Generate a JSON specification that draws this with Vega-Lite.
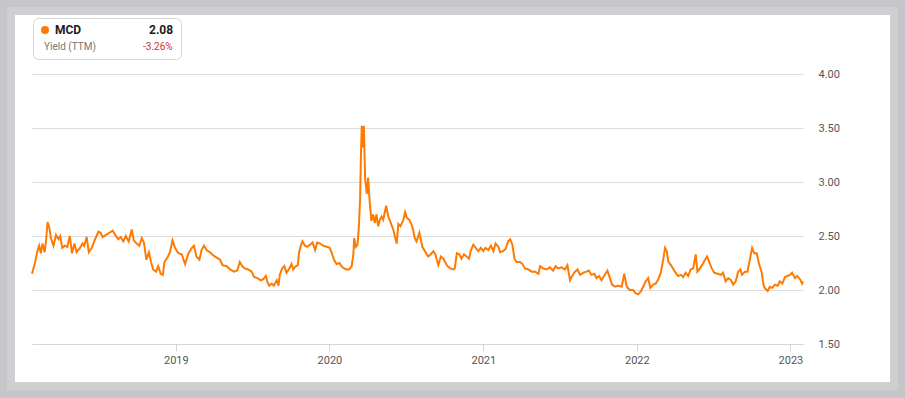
{
  "$schema": "https://vega.github.io/schema/vega-lite/v6.json",
  "width": 883,
  "height": 375,
  "autosize": {"type": "none"},
  "padding": {"left": 11, "top": 11, "right": 11, "bottom": 12},
  "background": "#c5c6c9",
  "config": {
    "view": {"fill": "#ffffff", "stroke": "#cfcfcf", "strokeWidth": 8},
    "font": "Roboto"
  },
  "data": {"values": [
    {"date":"2018-01-24","yield":2.15,"ticker":"MCD"},
    {"date":"2018-01-31","yield":2.25,"ticker":"MCD"},
    {"date":"2018-02-06","yield":2.36,"ticker":"MCD"},
    {"date":"2018-02-10","yield":2.41,"ticker":"MCD"},
    {"date":"2018-02-14","yield":2.34,"ticker":"MCD"},
    {"date":"2018-02-18","yield":2.43,"ticker":"MCD"},
    {"date":"2018-02-23","yield":2.35,"ticker":"MCD"},
    {"date":"2018-02-26","yield":2.44,"ticker":"MCD"},
    {"date":"2018-03-02","yield":2.63,"ticker":"MCD"},
    {"date":"2018-03-06","yield":2.58,"ticker":"MCD"},
    {"date":"2018-03-10","yield":2.48,"ticker":"MCD"},
    {"date":"2018-03-16","yield":2.41,"ticker":"MCD"},
    {"date":"2018-03-22","yield":2.51,"ticker":"MCD"},
    {"date":"2018-03-28","yield":2.47,"ticker":"MCD"},
    {"date":"2018-04-01","yield":2.50,"ticker":"MCD"},
    {"date":"2018-04-06","yield":2.39,"ticker":"MCD"},
    {"date":"2018-04-12","yield":2.41,"ticker":"MCD"},
    {"date":"2018-04-18","yield":2.40,"ticker":"MCD"},
    {"date":"2018-04-24","yield":2.50,"ticker":"MCD"},
    {"date":"2018-04-29","yield":2.34,"ticker":"MCD"},
    {"date":"2018-05-05","yield":2.43,"ticker":"MCD"},
    {"date":"2018-05-10","yield":2.35,"ticker":"MCD"},
    {"date":"2018-05-18","yield":2.39,"ticker":"MCD"},
    {"date":"2018-05-24","yield":2.43,"ticker":"MCD"},
    {"date":"2018-05-28","yield":2.41,"ticker":"MCD"},
    {"date":"2018-06-03","yield":2.49,"ticker":"MCD"},
    {"date":"2018-06-08","yield":2.35,"ticker":"MCD"},
    {"date":"2018-06-15","yield":2.39,"ticker":"MCD"},
    {"date":"2018-06-23","yield":2.47,"ticker":"MCD"},
    {"date":"2018-07-01","yield":2.54,"ticker":"MCD"},
    {"date":"2018-07-06","yield":2.53,"ticker":"MCD"},
    {"date":"2018-07-11","yield":2.49,"ticker":"MCD"},
    {"date":"2018-07-19","yield":2.51,"ticker":"MCD"},
    {"date":"2018-07-27","yield":2.53,"ticker":"MCD"},
    {"date":"2018-08-04","yield":2.55,"ticker":"MCD"},
    {"date":"2018-08-10","yield":2.51,"ticker":"MCD"},
    {"date":"2018-08-17","yield":2.47,"ticker":"MCD"},
    {"date":"2018-08-23","yield":2.49,"ticker":"MCD"},
    {"date":"2018-08-29","yield":2.45,"ticker":"MCD"},
    {"date":"2018-09-04","yield":2.50,"ticker":"MCD"},
    {"date":"2018-09-11","yield":2.45,"ticker":"MCD"},
    {"date":"2018-09-18","yield":2.56,"ticker":"MCD"},
    {"date":"2018-09-23","yield":2.46,"ticker":"MCD"},
    {"date":"2018-09-30","yield":2.43,"ticker":"MCD"},
    {"date":"2018-10-06","yield":2.41,"ticker":"MCD"},
    {"date":"2018-10-12","yield":2.48,"ticker":"MCD"},
    {"date":"2018-10-17","yield":2.44,"ticker":"MCD"},
    {"date":"2018-10-23","yield":2.28,"ticker":"MCD"},
    {"date":"2018-10-29","yield":2.35,"ticker":"MCD"},
    {"date":"2018-11-03","yield":2.26,"ticker":"MCD"},
    {"date":"2018-11-08","yield":2.19,"ticker":"MCD"},
    {"date":"2018-11-15","yield":2.17,"ticker":"MCD"},
    {"date":"2018-11-20","yield":2.22,"ticker":"MCD"},
    {"date":"2018-11-26","yield":2.15,"ticker":"MCD"},
    {"date":"2018-12-01","yield":2.14,"ticker":"MCD"},
    {"date":"2018-12-05","yield":2.26,"ticker":"MCD"},
    {"date":"2018-12-12","yield":2.30,"ticker":"MCD"},
    {"date":"2018-12-18","yield":2.35,"ticker":"MCD"},
    {"date":"2018-12-24","yield":2.46,"ticker":"MCD"},
    {"date":"2018-12-30","yield":2.39,"ticker":"MCD"},
    {"date":"2019-01-07","yield":2.34,"ticker":"MCD"},
    {"date":"2019-01-15","yield":2.33,"ticker":"MCD"},
    {"date":"2019-01-23","yield":2.24,"ticker":"MCD"},
    {"date":"2019-01-31","yield":2.34,"ticker":"MCD"},
    {"date":"2019-02-08","yield":2.39,"ticker":"MCD"},
    {"date":"2019-02-13","yield":2.41,"ticker":"MCD"},
    {"date":"2019-02-19","yield":2.31,"ticker":"MCD"},
    {"date":"2019-02-26","yield":2.28,"ticker":"MCD"},
    {"date":"2019-03-03","yield":2.37,"ticker":"MCD"},
    {"date":"2019-03-09","yield":2.41,"ticker":"MCD"},
    {"date":"2019-03-15","yield":2.37,"ticker":"MCD"},
    {"date":"2019-03-23","yield":2.35,"ticker":"MCD"},
    {"date":"2019-03-31","yield":2.32,"ticker":"MCD"},
    {"date":"2019-04-08","yield":2.30,"ticker":"MCD"},
    {"date":"2019-04-16","yield":2.28,"ticker":"MCD"},
    {"date":"2019-04-22","yield":2.23,"ticker":"MCD"},
    {"date":"2019-05-02","yield":2.22,"ticker":"MCD"},
    {"date":"2019-05-10","yield":2.19,"ticker":"MCD"},
    {"date":"2019-05-19","yield":2.17,"ticker":"MCD"},
    {"date":"2019-05-27","yield":2.18,"ticker":"MCD"},
    {"date":"2019-06-02","yield":2.26,"ticker":"MCD"},
    {"date":"2019-06-08","yield":2.22,"ticker":"MCD"},
    {"date":"2019-06-14","yield":2.20,"ticker":"MCD"},
    {"date":"2019-06-22","yield":2.19,"ticker":"MCD"},
    {"date":"2019-06-30","yield":2.17,"ticker":"MCD"},
    {"date":"2019-07-06","yield":2.12,"ticker":"MCD"},
    {"date":"2019-07-14","yield":2.11,"ticker":"MCD"},
    {"date":"2019-07-22","yield":2.09,"ticker":"MCD"},
    {"date":"2019-07-28","yield":2.10,"ticker":"MCD"},
    {"date":"2019-08-03","yield":2.13,"ticker":"MCD"},
    {"date":"2019-08-07","yield":2.07,"ticker":"MCD"},
    {"date":"2019-08-11","yield":2.04,"ticker":"MCD"},
    {"date":"2019-08-17","yield":2.06,"ticker":"MCD"},
    {"date":"2019-08-22","yield":2.04,"ticker":"MCD"},
    {"date":"2019-08-29","yield":2.09,"ticker":"MCD"},
    {"date":"2019-09-02","yield":2.04,"ticker":"MCD"},
    {"date":"2019-09-05","yield":2.14,"ticker":"MCD"},
    {"date":"2019-09-11","yield":2.20,"ticker":"MCD"},
    {"date":"2019-09-16","yield":2.22,"ticker":"MCD"},
    {"date":"2019-09-21","yield":2.16,"ticker":"MCD"},
    {"date":"2019-09-28","yield":2.20,"ticker":"MCD"},
    {"date":"2019-10-03","yield":2.24,"ticker":"MCD"},
    {"date":"2019-10-07","yield":2.19,"ticker":"MCD"},
    {"date":"2019-10-13","yield":2.22,"ticker":"MCD"},
    {"date":"2019-10-18","yield":2.23,"ticker":"MCD"},
    {"date":"2019-10-21","yield":2.35,"ticker":"MCD"},
    {"date":"2019-10-25","yield":2.41,"ticker":"MCD"},
    {"date":"2019-10-29","yield":2.45,"ticker":"MCD"},
    {"date":"2019-11-04","yield":2.41,"ticker":"MCD"},
    {"date":"2019-11-09","yield":2.40,"ticker":"MCD"},
    {"date":"2019-11-16","yield":2.42,"ticker":"MCD"},
    {"date":"2019-11-22","yield":2.44,"ticker":"MCD"},
    {"date":"2019-11-28","yield":2.37,"ticker":"MCD"},
    {"date":"2019-12-03","yield":2.44,"ticker":"MCD"},
    {"date":"2019-12-10","yield":2.43,"ticker":"MCD"},
    {"date":"2019-12-17","yield":2.41,"ticker":"MCD"},
    {"date":"2019-12-25","yield":2.40,"ticker":"MCD"},
    {"date":"2020-01-02","yield":2.39,"ticker":"MCD"},
    {"date":"2020-01-07","yield":2.34,"ticker":"MCD"},
    {"date":"2020-01-12","yield":2.28,"ticker":"MCD"},
    {"date":"2020-01-18","yield":2.24,"ticker":"MCD"},
    {"date":"2020-01-25","yield":2.25,"ticker":"MCD"},
    {"date":"2020-01-30","yield":2.22,"ticker":"MCD"},
    {"date":"2020-02-05","yield":2.20,"ticker":"MCD"},
    {"date":"2020-02-11","yield":2.19,"ticker":"MCD"},
    {"date":"2020-02-17","yield":2.19,"ticker":"MCD"},
    {"date":"2020-02-23","yield":2.22,"ticker":"MCD"},
    {"date":"2020-02-27","yield":2.33,"ticker":"MCD"},
    {"date":"2020-02-29","yield":2.48,"ticker":"MCD"},
    {"date":"2020-03-04","yield":2.40,"ticker":"MCD"},
    {"date":"2020-03-08","yield":2.42,"ticker":"MCD"},
    {"date":"2020-03-11","yield":2.58,"ticker":"MCD"},
    {"date":"2020-03-14","yield":2.84,"ticker":"MCD"},
    {"date":"2020-03-16","yield":3.24,"ticker":"MCD"},
    {"date":"2020-03-18","yield":3.52,"ticker":"MCD"},
    {"date":"2020-03-21","yield":3.32,"ticker":"MCD"},
    {"date":"2020-03-23","yield":3.52,"ticker":"MCD"},
    {"date":"2020-03-26","yield":3.03,"ticker":"MCD"},
    {"date":"2020-03-30","yield":2.89,"ticker":"MCD"},
    {"date":"2020-04-02","yield":3.04,"ticker":"MCD"},
    {"date":"2020-04-06","yield":2.81,"ticker":"MCD"},
    {"date":"2020-04-10","yield":2.64,"ticker":"MCD"},
    {"date":"2020-04-14","yield":2.70,"ticker":"MCD"},
    {"date":"2020-04-18","yield":2.62,"ticker":"MCD"},
    {"date":"2020-04-22","yield":2.70,"ticker":"MCD"},
    {"date":"2020-04-26","yield":2.59,"ticker":"MCD"},
    {"date":"2020-04-30","yield":2.65,"ticker":"MCD"},
    {"date":"2020-05-04","yield":2.68,"ticker":"MCD"},
    {"date":"2020-05-08","yield":2.65,"ticker":"MCD"},
    {"date":"2020-05-15","yield":2.78,"ticker":"MCD"},
    {"date":"2020-05-20","yield":2.68,"ticker":"MCD"},
    {"date":"2020-05-26","yield":2.62,"ticker":"MCD"},
    {"date":"2020-06-01","yield":2.56,"ticker":"MCD"},
    {"date":"2020-06-05","yield":2.49,"ticker":"MCD"},
    {"date":"2020-06-09","yield":2.43,"ticker":"MCD"},
    {"date":"2020-06-13","yield":2.61,"ticker":"MCD"},
    {"date":"2020-06-18","yield":2.59,"ticker":"MCD"},
    {"date":"2020-06-25","yield":2.65,"ticker":"MCD"},
    {"date":"2020-06-29","yield":2.72,"ticker":"MCD"},
    {"date":"2020-07-03","yield":2.67,"ticker":"MCD"},
    {"date":"2020-07-09","yield":2.65,"ticker":"MCD"},
    {"date":"2020-07-14","yield":2.61,"ticker":"MCD"},
    {"date":"2020-07-18","yield":2.56,"ticker":"MCD"},
    {"date":"2020-07-22","yield":2.48,"ticker":"MCD"},
    {"date":"2020-07-26","yield":2.45,"ticker":"MCD"},
    {"date":"2020-08-02","yield":2.53,"ticker":"MCD"},
    {"date":"2020-08-09","yield":2.40,"ticker":"MCD"},
    {"date":"2020-08-15","yield":2.36,"ticker":"MCD"},
    {"date":"2020-08-23","yield":2.31,"ticker":"MCD"},
    {"date":"2020-08-29","yield":2.33,"ticker":"MCD"},
    {"date":"2020-09-04","yield":2.36,"ticker":"MCD"},
    {"date":"2020-09-09","yield":2.33,"ticker":"MCD"},
    {"date":"2020-09-16","yield":2.23,"ticker":"MCD"},
    {"date":"2020-09-22","yield":2.31,"ticker":"MCD"},
    {"date":"2020-09-28","yield":2.29,"ticker":"MCD"},
    {"date":"2020-10-06","yield":2.23,"ticker":"MCD"},
    {"date":"2020-10-14","yield":2.20,"ticker":"MCD"},
    {"date":"2020-10-22","yield":2.19,"ticker":"MCD"},
    {"date":"2020-10-25","yield":2.20,"ticker":"MCD"},
    {"date":"2020-10-30","yield":2.34,"ticker":"MCD"},
    {"date":"2020-11-05","yield":2.33,"ticker":"MCD"},
    {"date":"2020-11-10","yield":2.29,"ticker":"MCD"},
    {"date":"2020-11-16","yield":2.33,"ticker":"MCD"},
    {"date":"2020-11-22","yield":2.31,"ticker":"MCD"},
    {"date":"2020-11-28","yield":2.29,"ticker":"MCD"},
    {"date":"2020-12-02","yield":2.36,"ticker":"MCD"},
    {"date":"2020-12-08","yield":2.42,"ticker":"MCD"},
    {"date":"2020-12-14","yield":2.39,"ticker":"MCD"},
    {"date":"2020-12-20","yield":2.36,"ticker":"MCD"},
    {"date":"2020-12-26","yield":2.39,"ticker":"MCD"},
    {"date":"2021-01-01","yield":2.36,"ticker":"MCD"},
    {"date":"2021-01-06","yield":2.39,"ticker":"MCD"},
    {"date":"2021-01-13","yield":2.37,"ticker":"MCD"},
    {"date":"2021-01-19","yield":2.41,"ticker":"MCD"},
    {"date":"2021-01-25","yield":2.36,"ticker":"MCD"},
    {"date":"2021-01-30","yield":2.43,"ticker":"MCD"},
    {"date":"2021-02-06","yield":2.40,"ticker":"MCD"},
    {"date":"2021-02-10","yield":2.35,"ticker":"MCD"},
    {"date":"2021-02-17","yield":2.36,"ticker":"MCD"},
    {"date":"2021-02-23","yield":2.38,"ticker":"MCD"},
    {"date":"2021-03-01","yield":2.45,"ticker":"MCD"},
    {"date":"2021-03-06","yield":2.47,"ticker":"MCD"},
    {"date":"2021-03-11","yield":2.42,"ticker":"MCD"},
    {"date":"2021-03-16","yield":2.29,"ticker":"MCD"},
    {"date":"2021-03-21","yield":2.26,"ticker":"MCD"},
    {"date":"2021-03-29","yield":2.26,"ticker":"MCD"},
    {"date":"2021-04-04","yield":2.24,"ticker":"MCD"},
    {"date":"2021-04-10","yield":2.20,"ticker":"MCD"},
    {"date":"2021-04-18","yield":2.19,"ticker":"MCD"},
    {"date":"2021-04-26","yield":2.17,"ticker":"MCD"},
    {"date":"2021-05-04","yield":2.17,"ticker":"MCD"},
    {"date":"2021-05-12","yield":2.15,"ticker":"MCD"},
    {"date":"2021-05-16","yield":2.22,"ticker":"MCD"},
    {"date":"2021-05-23","yield":2.20,"ticker":"MCD"},
    {"date":"2021-05-31","yield":2.19,"ticker":"MCD"},
    {"date":"2021-06-08","yield":2.21,"ticker":"MCD"},
    {"date":"2021-06-16","yield":2.18,"ticker":"MCD"},
    {"date":"2021-06-22","yield":2.22,"ticker":"MCD"},
    {"date":"2021-06-28","yield":2.20,"ticker":"MCD"},
    {"date":"2021-07-06","yield":2.21,"ticker":"MCD"},
    {"date":"2021-07-14","yield":2.19,"ticker":"MCD"},
    {"date":"2021-07-20","yield":2.23,"ticker":"MCD"},
    {"date":"2021-07-26","yield":2.09,"ticker":"MCD"},
    {"date":"2021-07-31","yield":2.13,"ticker":"MCD"},
    {"date":"2021-08-07","yield":2.17,"ticker":"MCD"},
    {"date":"2021-08-13","yield":2.19,"ticker":"MCD"},
    {"date":"2021-08-19","yield":2.14,"ticker":"MCD"},
    {"date":"2021-08-27","yield":2.16,"ticker":"MCD"},
    {"date":"2021-09-03","yield":2.17,"ticker":"MCD"},
    {"date":"2021-09-09","yield":2.18,"ticker":"MCD"},
    {"date":"2021-09-15","yield":2.14,"ticker":"MCD"},
    {"date":"2021-09-22","yield":2.15,"ticker":"MCD"},
    {"date":"2021-09-27","yield":2.11,"ticker":"MCD"},
    {"date":"2021-10-03","yield":2.13,"ticker":"MCD"},
    {"date":"2021-10-09","yield":2.09,"ticker":"MCD"},
    {"date":"2021-10-15","yield":2.13,"ticker":"MCD"},
    {"date":"2021-10-23","yield":2.18,"ticker":"MCD"},
    {"date":"2021-10-29","yield":2.11,"ticker":"MCD"},
    {"date":"2021-11-03","yield":2.05,"ticker":"MCD"},
    {"date":"2021-11-10","yield":2.03,"ticker":"MCD"},
    {"date":"2021-11-18","yield":2.04,"ticker":"MCD"},
    {"date":"2021-11-26","yield":2.03,"ticker":"MCD"},
    {"date":"2021-12-02","yield":2.15,"ticker":"MCD"},
    {"date":"2021-12-08","yield":2.03,"ticker":"MCD"},
    {"date":"2021-12-15","yield":2.00,"ticker":"MCD"},
    {"date":"2021-12-23","yield":2.00,"ticker":"MCD"},
    {"date":"2021-12-29","yield":1.97,"ticker":"MCD"},
    {"date":"2022-01-04","yield":1.96,"ticker":"MCD"},
    {"date":"2022-01-11","yield":1.99,"ticker":"MCD"},
    {"date":"2022-01-16","yield":2.03,"ticker":"MCD"},
    {"date":"2022-01-22","yield":2.08,"ticker":"MCD"},
    {"date":"2022-01-28","yield":2.11,"ticker":"MCD"},
    {"date":"2022-02-02","yield":2.02,"ticker":"MCD"},
    {"date":"2022-02-09","yield":2.05,"ticker":"MCD"},
    {"date":"2022-02-15","yield":2.06,"ticker":"MCD"},
    {"date":"2022-02-21","yield":2.10,"ticker":"MCD"},
    {"date":"2022-02-27","yield":2.16,"ticker":"MCD"},
    {"date":"2022-03-05","yield":2.29,"ticker":"MCD"},
    {"date":"2022-03-09","yield":2.39,"ticker":"MCD"},
    {"date":"2022-03-13","yield":2.36,"ticker":"MCD"},
    {"date":"2022-03-17","yield":2.26,"ticker":"MCD"},
    {"date":"2022-03-23","yield":2.23,"ticker":"MCD"},
    {"date":"2022-03-28","yield":2.20,"ticker":"MCD"},
    {"date":"2022-04-03","yield":2.16,"ticker":"MCD"},
    {"date":"2022-04-09","yield":2.13,"ticker":"MCD"},
    {"date":"2022-04-16","yield":2.14,"ticker":"MCD"},
    {"date":"2022-04-21","yield":2.12,"ticker":"MCD"},
    {"date":"2022-04-27","yield":2.16,"ticker":"MCD"},
    {"date":"2022-05-03","yield":2.13,"ticker":"MCD"},
    {"date":"2022-05-09","yield":2.19,"ticker":"MCD"},
    {"date":"2022-05-15","yield":2.20,"ticker":"MCD"},
    {"date":"2022-05-21","yield":2.33,"ticker":"MCD"},
    {"date":"2022-05-25","yield":2.17,"ticker":"MCD"},
    {"date":"2022-05-31","yield":2.20,"ticker":"MCD"},
    {"date":"2022-06-05","yield":2.23,"ticker":"MCD"},
    {"date":"2022-06-12","yield":2.28,"ticker":"MCD"},
    {"date":"2022-06-17","yield":2.31,"ticker":"MCD"},
    {"date":"2022-06-23","yield":2.25,"ticker":"MCD"},
    {"date":"2022-06-28","yield":2.20,"ticker":"MCD"},
    {"date":"2022-07-04","yield":2.16,"ticker":"MCD"},
    {"date":"2022-07-12","yield":2.15,"ticker":"MCD"},
    {"date":"2022-07-20","yield":2.14,"ticker":"MCD"},
    {"date":"2022-07-25","yield":2.16,"ticker":"MCD"},
    {"date":"2022-07-31","yield":2.08,"ticker":"MCD"},
    {"date":"2022-08-06","yield":2.11,"ticker":"MCD"},
    {"date":"2022-08-13","yield":2.09,"ticker":"MCD"},
    {"date":"2022-08-18","yield":2.05,"ticker":"MCD"},
    {"date":"2022-08-24","yield":2.08,"ticker":"MCD"},
    {"date":"2022-08-30","yield":2.17,"ticker":"MCD"},
    {"date":"2022-09-04","yield":2.19,"ticker":"MCD"},
    {"date":"2022-09-08","yield":2.14,"ticker":"MCD"},
    {"date":"2022-09-15","yield":2.17,"ticker":"MCD"},
    {"date":"2022-09-21","yield":2.17,"ticker":"MCD"},
    {"date":"2022-09-27","yield":2.29,"ticker":"MCD"},
    {"date":"2022-10-02","yield":2.39,"ticker":"MCD"},
    {"date":"2022-10-07","yield":2.34,"ticker":"MCD"},
    {"date":"2022-10-13","yield":2.34,"ticker":"MCD"},
    {"date":"2022-10-18","yield":2.25,"ticker":"MCD"},
    {"date":"2022-10-25","yield":2.16,"ticker":"MCD"},
    {"date":"2022-10-29","yield":2.05,"ticker":"MCD"},
    {"date":"2022-11-01","yield":2.02,"ticker":"MCD"},
    {"date":"2022-11-08","yield":1.99,"ticker":"MCD"},
    {"date":"2022-11-13","yield":2.03,"ticker":"MCD"},
    {"date":"2022-11-19","yield":2.02,"ticker":"MCD"},
    {"date":"2022-11-25","yield":2.05,"ticker":"MCD"},
    {"date":"2022-12-02","yield":2.04,"ticker":"MCD"},
    {"date":"2022-12-07","yield":2.08,"ticker":"MCD"},
    {"date":"2022-12-13","yield":2.06,"ticker":"MCD"},
    {"date":"2022-12-19","yield":2.12,"ticker":"MCD"},
    {"date":"2022-12-25","yield":2.13,"ticker":"MCD"},
    {"date":"2022-12-31","yield":2.14,"ticker":"MCD"},
    {"date":"2023-01-05","yield":2.16,"ticker":"MCD"},
    {"date":"2023-01-12","yield":2.11,"ticker":"MCD"},
    {"date":"2023-01-17","yield":2.13,"ticker":"MCD"},
    {"date":"2023-01-24","yield":2.10,"ticker":"MCD"},
    {"date":"2023-01-29","yield":2.06,"ticker":"MCD"},
    {"date":"2023-01-31","yield":2.08,"ticker":"MCD"}
  ]},
  "mark": {"type": "line", "strokeWidth": 2, "interpolate": "linear"},
  "encoding": {
    "x": {
      "field": "date",
      "type": "temporal",
      "scale": {
        "type": "utc",
        "domain": [{"year": 2018, "month": 1, "date": 24, "utc": true}, {"year": 2023, "month": 1, "date": 31, "utc": true}],
        "range": [21, 792],
        "nice": false
      },
      "axis": {
        "title": null,
        "orient": "bottom",
        "offset": -42,
        "grid": false,
        "values": [
          {"year": 2019, "month": 1, "date": 1, "utc": true},
          {"year": 2020, "month": 1, "date": 1, "utc": true},
          {"year": 2021, "month": 1, "date": 1, "utc": true},
          {"year": 2022, "month": 1, "date": 1, "utc": true},
          {"year": 2023, "month": 1, "date": 1, "utc": true}
        ],
        "format": "%Y",
        "labelFlush": false,
        "labelOverlap": false,
        "domainColor": "#d6d6d6",
        "tickColor": "#d6d6d6",
        "tickSize": 7,
        "labelPadding": 3,
        "labelFont": "Roboto",
        "labelFontSize": 11,
        "labelColor": "#555555"
      }
    },
    "y": {
      "field": "yield",
      "type": "quantitative",
      "scale": {"domain": [1.5, 4], "range": [333, 63], "nice": false, "zero": false},
      "axis": {
        "title": null,
        "orient": "left",
        "offset": -792,
        "values": [1.5, 2, 2.5, 3, 3.5, 4],
        "format": ".2f",
        "grid": true,
        "gridColor": "#dcdcdc",
        "domain": false,
        "ticks": false,
        "tickSize": 0,
        "labelAlign": "left",
        "labelPadding": -15,
        "labelFlush": false,
        "labelFont": "Roboto",
        "labelFontSize": 11,
        "labelColor": "#555555"
      }
    },
    "color": {
      "field": "ticker",
      "type": "nominal",
      "scale": {
        "domain": ["MCD", "Yield (TTM)", "2.08", "-3.26%"],
        "range": ["#ff7a00", "#ff7a00", "#ff7a00", "#ff7a00"]
      },
      "legend": {
        "orient": "none",
        "legendX": 22,
        "legendY": 7,
        "title": null,
        "direction": "vertical",
        "columns": 2,
        "columnPadding": 35,
        "rowPadding": 6,
        "symbolType": "circle",
        "symbolSize": 64,
        "symbolStrokeWidth": 0,
        "labelOffset": 5,
        "labelLimit": 200,
        "labelFont": "Roboto",
        "padding": 7,
        "fillColor": "#ffffff",
        "strokeColor": "#d6d6d6",
        "cornerRadius": 5,
        "encode": {
          "symbols": {"update": {
            "fill": {"signal": "datum.index === 0 ? '#ff7a00' : 'transparent'"},
            "fillOpacity": {"value": 1},
            "stroke": {"value": "transparent"}
          }},
          "labels": {"update": {
            "fontSize": {"signal": "(datum.index === 0 || datum.index === 2) ? 12 : 10"},
            "fontWeight": {"signal": "(datum.index === 0 || datum.index === 2) ? 'bold' : 'normal'"},
            "fill": {"signal": "datum.index === 3 ? '#d32f2f' : (datum.index === 1 ? '#757575' : '#212121')"},
            "dx": {"signal": "datum.index === 1 ? -11 : (datum.index === 2 ? 3 : (datum.index === 3 ? -3 : 0))"}
          }}
        }
      }
    }
  }
}
